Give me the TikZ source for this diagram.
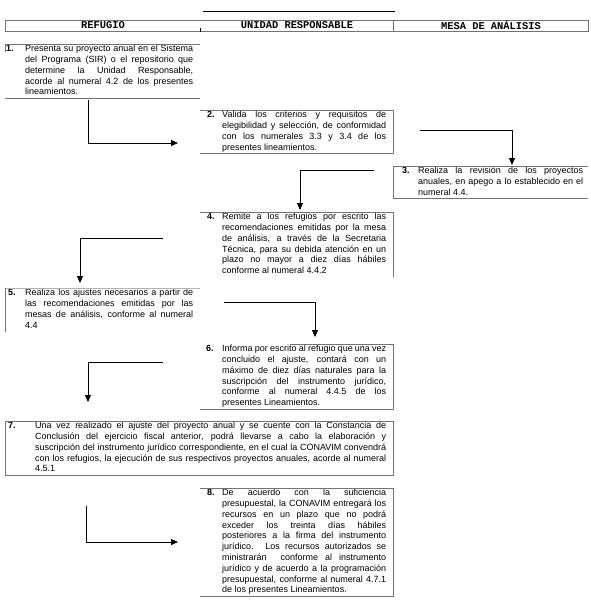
\documentclass[tikz,border=0pt]{standalone}
\usepackage{fontspec}
\setmainfont{Liberation Sans}
\newfontfamily\headfont{Liberation Mono}
\usetikzlibrary{arrows.meta}
\newcommand{\stepfont}{\fontsize{9}{10.8}\selectfont\hyphenpenalty=10000\exhyphenpenalty=10000}
\newcommand{\hangnum}[2]{\llap{\makebox[#1][l]{\textbf{#2}}}}
\begin{document}
\begin{tikzpicture}[x=1pt,y=-1pt,
  stepbox/.style={anchor=north west,inner sep=0pt,align=justify,font=\stepfont},
  headbox/.style={inner sep=0pt,font=\headfont\bfseries\fontsize{10.4}{12}\selectfont},
  edge/.style={draw=black!55,line width=0.8pt},
  flow/.style={draw=black,line width=0.8pt,-{Triangle[width=6pt,length=7pt]}}]
\useasboundingbox (0,0) rectangle (590,602);
% columns
\coordinate (cA) at (5,0);
\coordinate (cB) at (200,0);
\coordinate (cC) at (393,0);
\coordinate (cD) at (588,0);
% header
\draw[line width=0.9pt] (203,11) -- (395,11);
\draw[edge] (cA |- 0,20) rectangle (cD |- 0,31);
\draw[edge] (cC |- 0,20) -- (cC |- 0,31);
\draw[line width=0.8pt] (cB |- 0,28) -- (cB |- 0,32);
\node[headbox] (hA) at (103,25.5) {REFUGIO};
\node[headbox] (hB) at (297,25.5) {UNIDAD RESPONSABLE};
\node[headbox] (hC) at (491,25.5) {MESA DE ANÁLISIS};
% steps
\node[stepbox,text width=168] (s1) at (25,44) {\strut\hangnum{19pt}{1.}Presenta su proyecto anual en el Sistema\linebreak
  del Programa (SIR) o el repositorio que\linebreak determine la Unidad Responsable,\linebreak
  acorde al numeral 4.2 de los presentes\linebreak lineamientos.\strut};
\node[stepbox,text width=164] (s2) at (222,110) {\strut\hangnum{15pt}{2.}Valida los criterios y requisitos de\linebreak
  elegibilidad y selección, de conformidad\linebreak con los numerales 3.3 y 3.4 de los\linebreak
  presentes lineamientos.\strut};
\node[stepbox,text width=165] (s3) at (418,166) {\strut\hangnum{16pt}{3.}Realiza la revisión de los proyectos\linebreak
  anuales, en apego a lo establecido en el\linebreak numeral 4.4.\strut};
\node[stepbox,text width=164] (s4) at (222,212) {\strut\hangnum{15pt}{4.}Remite a los refugios por escrito las\linebreak
  recomendaciones emitidas por la mesa\linebreak de análisis, a través de la Secretaria\linebreak
  Técnica, para su debida atención en un\linebreak plazo no mayor a diez días hábiles\linebreak
  conforme al numeral 4.4.2\strut};
\node[stepbox,text width=168] (s5) at (25,288) {\strut\hangnum{17pt}{5.}Realiza los ajustes necesarios a partir de\linebreak
  las recomendaciones emitidas por las\linebreak mesas de análisis, conforme al numeral\linebreak
  4.4\strut};
\node[stepbox,text width=164] (s6) at (222,344) {\strut\hangnum{16pt}{6.}Informa por escrito al refugio que una vez\linebreak
  concluido el ajuste, contará con un\linebreak máximo de diez días naturales para la\linebreak
  suscripción del instrumento jurídico,\linebreak conforme al numeral 4.4.5 de los\linebreak
  presentes Lineamientos.\strut};
\node[stepbox,text width=351] (s7) at (35,421) {\strut\hangnum{27pt}{7.}Una vez realizado el ajuste del proyecto anual y se cuente con la Constancia de\linebreak
  Conclusión del ejercicio fiscal anterior, podrá llevarse a cabo la elaboración y\linebreak
  suscripción del instrumento jurídico correspondiente, en el cual la CONAVIM convendrá\linebreak
  con los refugios, la ejecución de sus respectivos proyectos anuales, acorde al numeral\linebreak
  4.5.1\strut};
\node[stepbox,text width=164] (s8) at (222,488) {\strut\hangnum{15pt}{8.}De acuerdo con la suficiencia\linebreak
  presupuestal, la CONAVIM entregará los\linebreak recursos en un plazo que no podrá\linebreak
  exceder los treinta días hábiles\linebreak posteriores a la firma del instrumento\linebreak
  jurídico. Los recursos autorizados se\linebreak ministrarán \ conforme al instrumento\linebreak
  jurídico y de acuerdo a la programación\linebreak presupuestal, conforme al numeral 4.7.1\linebreak
  de los presentes Lineamientos.\strut};
% frames
\draw[edge] (s1.north -| cA) -- (s1.north -| cB) (s1.south -| cA) -- (s1.south -| cB);
\draw[edge] (s1.north -| cA) -- ++(0,8);
\draw[edge] (s2.north -| cB) -- (s2.north -| cC) -- (s2.south -| cC) -- (s2.south -| cB);
\draw[edge] (s3.north -| cD) -- (s3.north -| cC) -- (s3.south -| cC) -- (s3.south -| cD);
\draw[edge] (s4.north -| cB) -- (s4.north -| cC) -- (s4.south -| cC);
\draw[edge,draw=black!30] (s5.north -| cA) -- (s5.north -| cB);
\draw[edge] (s5.north -| cA) -- (s5.south -| cA);
\draw[edge] (290,0 |- s6.north) -- (s6.north -| cC) -- (s6.south -| cC) -- (s6.south -| cB);
\draw[edge] (s7.north -| cA) rectangle (s7.south -| cC);
\draw[edge] (s8.north -| cB) -- (s8.north -| cC) -- (s8.south -| cC) -- (s8.south -| cB);
% arrows
\coordinate (a1s) at (88,100);  \coordinate (a1e) at (178,143);
\coordinate (a2s) at (420,130); \coordinate (a2e) at (512,165);
\coordinate (a3s) at (374,170); \coordinate (a3e) at (300,210);
\coordinate (a4s) at (163,238); \coordinate (a4e) at (80,283);
\coordinate (a5s) at (224,302); \coordinate (a5e) at (315,337);
\coordinate (a6s) at (163,362); \coordinate (a6e) at (88,402);
\coordinate (a7s) at (86,506);  \coordinate (a7e) at (178,542);
\draw[flow] (a1s) |- (a1e);
\draw[flow] (a2s) -| (a2e);
\draw[flow] (a3s) -| (a3e);
\draw[flow] (a4s) -| (a4e);
\draw[flow] (a5s) -| (a5e);
\draw[flow] (a6s) -| (a6e);
\draw[flow] (a7s) |- (a7e);
\end{tikzpicture}
\end{document}
